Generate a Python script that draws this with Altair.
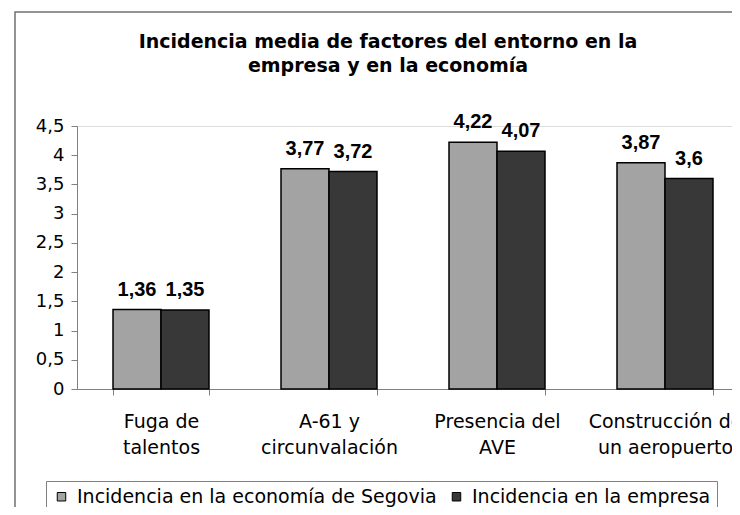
import altair as alt
import pandas as pd

categories = ["Fuga de|talentos", "A-61 y|circunvalación", "Presencia del|AVE", "Construcción de|un aeropuerto"]
series = ["Incidencia en la economía de Segovia", "Incidencia en la empresa"]
econ = [1.36, 3.77, 4.22, 3.87]
empresa = [1.35, 3.72, 4.07, 3.6]
y_ticks = [0, 0.5, 1, 1.5, 2, 2.5, 3, 3.5, 4, 4.5]
title_lines = ["Incidencia media de factores del entorno en la", "empresa y en la economía"]

rows = []
for i, c in enumerate(categories):
    for s, vals in zip(series, [econ, empresa]):
        v = vals[i]
        rows.append({"cat": c, "serie": s, "valor": v, "etiqueta": str(v).replace(".", ",")})
df = pd.DataFrame(rows)

FONT = "DejaVu Sans"
BFONT = "Liberation Sans"
LIGHT = "#a3a3a3"
DARK = "#383838"

x = alt.X("cat:N", sort=categories, title=None,
          scale=alt.Scale(range=[0, 672], paddingInner=0.4286, paddingOuter=0.2143),
          axis=alt.Axis(labelAngle=0, labelExpr="split(datum.label, '|')",
                        labelFontSize=19, labelFont=FONT, labelColor="#000",
                        labelLineHeight=26, labelPadding=17, labelLimit=300,
                        labelOverlap=False,
                        tickBand="extent", tickSize=6, tickColor="#808080",
                        domainColor="#808080", grid=False))
xo = alt.XOffset("serie:N", sort=series, scale=alt.Scale(paddingInner=0, paddingOuter=0))
y = alt.Y("valor:Q", title=None,
          scale=alt.Scale(domain=[0, 4.5], nice=False),
          axis=alt.Axis(values=y_ticks, labelExpr="replace(toString(datum.value), '.', ',')",
                        labelFontSize=18, labelFont=FONT, labelColor="#000",
                        labelOverlap=False,
                        tickSize=6, tickColor="#808080", labelPadding=7,
                        domainColor="#808080", grid=False))
color = alt.Color("serie:N", sort=series, title=None,
                  scale=alt.Scale(domain=series, range=[LIGHT, DARK]),
                  legend=alt.Legend(orient="none", legendX=-31, legendY=355,
                                    direction="horizontal", symbolType="square",
                                    symbolSize=72, symbolStrokeColor="#000",
                                    symbolStrokeWidth=1, labelFontSize=19,
                                    labelFont=FONT, labelColor="#000", labelLimit=500,
                                    labelOffset=6, columnPadding=10, padding=6,
                                    strokeColor="#808080", fillColor="white"))

bars = alt.Chart(df).mark_bar(stroke="#000", strokeWidth=1.5).encode(
    x=x, xOffset=xo, y=y, color=color)

labels = alt.Chart(df).mark_text(dy=-10, baseline="bottom", fontSize=20,
                                 fontWeight="bold", font=BFONT, color="#000").encode(
    x=x, xOffset=xo, y=y, text="etiqueta:N")

frame = alt.Chart(alt.Data(values=[{"a": 1}])).mark_rect(
    fill=None, stroke="#707070", strokeWidth=1.5).encode(
    x=alt.value(-62), x2=alt.value(800), y=alt.value(-114), y2=alt.value(600))

title = alt.Chart(alt.Data(values=[{"t": "\n".join(title_lines)}])).mark_text(
    fontSize=19, font="DejaVu Sans", fontWeight="bold", color="#000", align="center",
    baseline="alphabetic", lineBreak="\n", lineHeight=24).encode(
    x=alt.value(311), y=alt.value(-78), text="t:N")

chart = alt.layer(frame, bars, labels, title).properties(
    width=655, height=263,
    autosize=alt.AutoSizeParams(type="none"),
    padding={"left": 69, "top": 118, "right": 0, "bottom": 118},
).configure_view(stroke=None).configure(background="white")

chart.save("out.html", embed_options={"renderer": "svg", "actions": False})
